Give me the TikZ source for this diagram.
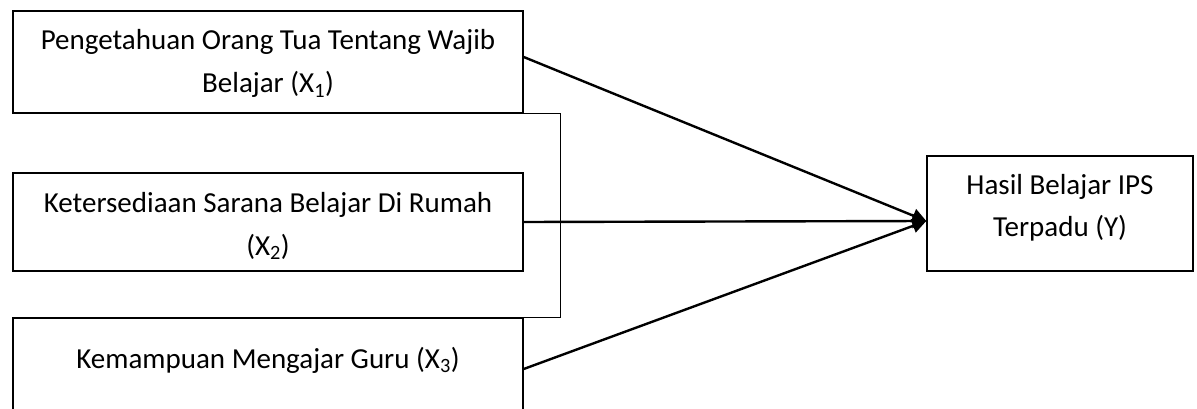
\documentclass[tikz,border=0pt]{standalone}
\usepackage{fontspec}
\setmainfont{Carlito}
\usetikzlibrary{arrows.meta}
\begin{document}
\begin{tikzpicture}[x=1pt,y=-1pt,
  box/.style={draw=black, line width=1.4pt, rectangle, inner sep=0pt},
  lbl/.style={anchor=base, inner sep=0pt, font=\fontsize{29}{40}\selectfont},
  link/.style={draw=black, line width=1.4pt},
  conn/.style={draw=black, line width=2.4pt, -{Triangle[length=14pt,width=14pt]}}]
\clip (0,0) rectangle (1197,409);
\fill[white] (0,0) rectangle (1197,409);

% independent variables
\node[box, minimum width=510pt, minimum height=102pt] (b1) at (268,62) {};
\node[box, minimum width=510pt, minimum height=98pt] (b2) at (268,222) {};
\node[box, minimum width=510pt, minimum height=102pt] (b3) at (268,369) {};
% dependent variable
\node[box, minimum width=266pt, minimum height=115pt] (y) at (1060,213.5) {};

% box texts
\node[lbl] (t1a) at (268,50) {Pengetahuan Orang Tua Tentang Wajib};
\node[lbl] (t1b) at (268,93) {Belajar (X\textsubscript{1})};
\node[lbl] (t2a) at (268,212) {Ketersediaan Sarana Belajar Di Rumah};
\node[lbl] (t2b) at (268,255) {(X\textsubscript{2})};
\node[lbl] (t3a) at (268,368) {Kemampuan Mengajar Guru (X\textsubscript{3})};
\node[lbl] (tya) at (1060,194) {Hasil Belajar IPS};
\node[lbl] (tyb) at (1060,236) {Terpadu (Y)};

% bracket joining the three variables
\draw[link] (b1.south east) -- ++(37,0) |- (b3.north east);

% paths to the outcome
\coordinate (tip) at ([yshift=-7.5pt]y.west);
\coordinate (s1) at ([yshift=5pt]b1.east);
\draw[conn] (s1) -- (tip);
\draw[conn] (b2.east) -- (tip);
\draw[conn] (b3.east) -- (tip);
\end{tikzpicture}
\end{document}
